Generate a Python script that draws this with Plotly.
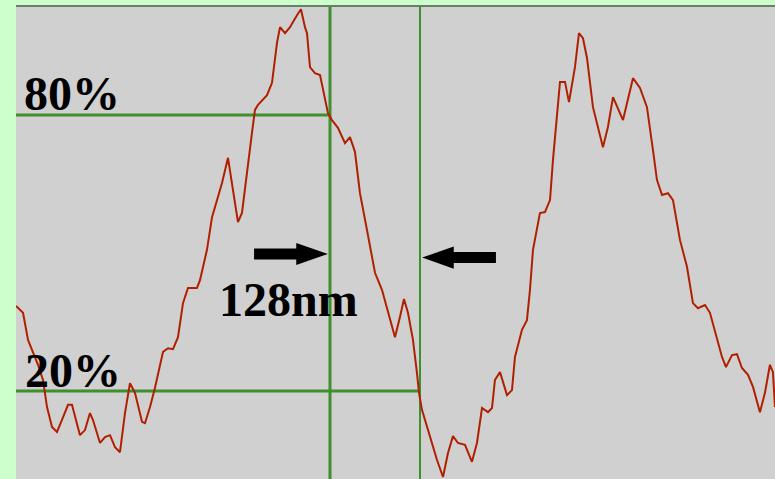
import plotly.graph_objects as go

# Intensity profile across two lines (position in nm, intensity in % of max)
position_nm = [
    0.0, 10.0, 17.1, 24.2, 31.3, 38.4, 44.1, 51.2, 58.3, 65.4, 74.0, 79.6, 91.0, 98.1,
    105.2, 109.5, 119.5, 126.6, 133.7, 140.8, 147.9, 155.0, 162.1, 169.2, 179.2, 183.5,
    190.6, 197.7, 204.8, 209.1, 216.2, 223.3, 230.4, 237.5, 244.6, 257.4, 261.7, 271.6,
    278.8, 285.9, 293.0, 301.5, 308.6, 315.7, 321.4, 328.5, 335.6, 339.9, 344.2, 357.0,
    364.1, 371.2, 375.5, 382.6, 389.7, 399.6, 405.3, 411.0, 413.9, 418.1, 425.2, 432.4,
    436.6, 443.7, 449.4, 457.9, 467.9, 475.0, 482.1, 489.2, 499.2, 510.6, 520.5, 529.1,
    539.0, 546.1, 551.8, 557.5, 564.6, 570.3, 573.2, 577.4, 588.8, 598.8, 607.3, 614.4,
    621.5, 628.6, 638.6, 648.5, 655.6, 662.8, 671.3, 677.0, 681.2, 688.4, 698.3, 705.4,
    709.7, 719.6, 726.7, 731.0, 735.3, 741.0, 745.2, 752.3, 759.5, 763.7, 769.4, 773.7,
    780.8, 786.5, 795.0, 800.7, 806.4, 812.1, 820.6, 834.8, 841.9, 849.1, 863.3, 877.5,
    887.5, 897.4, 905.9, 911.6, 918.8, 927.3, 934.4, 944.4, 954.3, 962.8, 969.9, 979.9,
    987.0, 997.0, 1004.1, 1009.8, 1018.3, 1025.4, 1032.5, 1041.1, 1048.2, 1058.1, 1065.2,
    1072.3, 1076.6, 1079.5,
]
intensity_pct = [
    38.5, 37.0, 31.1, 28.5, 25.7, 22.4, 16.5, 12.2, 11.1, 13.7, 17.0, 17.0, 10.4, 11.5,
    15.2, 13.7, 8.7, 10.0, 10.4, 7.8, 6.7, 15.2, 21.7, 19.6, 13.3, 13.0,
    16.5, 20.7, 25.2, 28.5, 29.3, 29.1, 31.7, 39.1, 42.4, 42.4, 44.1, 50.7,
    57.8, 61.5, 65.2, 70.7, 63.7, 56.7, 58.7, 68.0, 76.1, 81.1, 82.2, 84.3,
    87.0, 95.7, 99.1, 97.8, 99.1, 101.7, 103.0, 99.1, 97.8, 90.4, 89.1, 88.7,
    85.4, 80.4, 78.9, 77.2, 73.9, 75.2, 72.0, 63.0, 55.0, 45.7, 42.0, 37.0,
    31.7, 36.1, 40.0, 37.0, 31.1, 23.9, 19.6, 15.9, 10.0, 5.0, 1.3, 6.5,
    10.2, 8.7, 8.3, 4.6, 8.7, 16.3, 15.4, 16.3, 22.4, 24.1, 19.1, 20.2,
    27.4, 33.3, 35.4, 42.0, 50.7, 55.7, 58.7, 58.9, 61.5, 70.2, 79.6, 87.2,
    87.2, 82.8, 90.4, 97.8, 96.7, 92.4, 81.7, 73.0, 77.4, 83.9, 78.9, 88.0,
    85.9, 81.7, 72.4, 65.9, 62.6, 63.0, 61.5, 52.8, 47.0, 39.1, 38.0, 38.7,
    37.0, 31.7, 27.4, 25.2, 27.8, 28.0, 25.0, 23.5, 20.9, 15.4, 19.6,
    25.7, 24.1, 16.5,
]

# Measurement levels and edge positions
level_high = 80
level_low = 20
edge_left_nm = 446.6
width_nm = 128
edge_right_nm = edge_left_nm + width_nm

X_RANGE = [0, 1079.5]
Y_RANGE = [0.87, 103.48]

GREEN = "#3f8f2f"
FONT = dict(family="Liberation Serif, Times New Roman, serif", size=48, color="black")

fig = go.Figure()
fig.add_trace(go.Scatter(
    x=position_nm, y=intensity_pct, mode="lines",
    line=dict(color="#b02000", width=2), hoverinfo="skip",
))

shapes = [
    # level lines
    dict(type="line", xref="x", yref="y", x0=X_RANGE[0], x1=edge_left_nm,
         y0=level_high, y1=level_high, line=dict(color=GREEN, width=3), layer="below"),
    dict(type="line", xref="x", yref="y", x0=X_RANGE[0], x1=edge_right_nm,
         y0=level_low, y1=level_low, line=dict(color=GREEN, width=3), layer="below"),
    # edge markers
    dict(type="line", xref="x", yref="paper", x0=edge_left_nm, x1=edge_left_nm,
         y0=0, y1=1, line=dict(color=GREEN, width=3), layer="below"),
    dict(type="line", xref="x", yref="paper", x0=edge_right_nm, x1=edge_right_nm,
         y0=0, y1=1, line=dict(color=GREEN, width=2), layer="below"),
    # top border
    dict(type="line", xref="paper", yref="paper", x0=0, x1=1, y0=1.0021, y1=1.0021,
         line=dict(color="black", width=1.2)),
]


def arrow_path(tip_x, y, direction, total_len=105.0, head_len=45.0,
               head_half=2.4, shaft_half=1.2):
    """Block arrow pointing in `direction` (+1 right, -1 left) ending at tip_x."""
    base = tip_x - direction * head_len
    tail = tip_x - direction * total_len
    pts = [
        (tail, y - shaft_half), (base, y - shaft_half), (base, y - head_half),
        (tip_x, y), (base, y + head_half), (base, y + shaft_half), (tail, y + shaft_half),
    ]
    return "M " + " L ".join(f"{px},{py}" for px, py in pts) + " Z"


shapes.append(dict(type="path", xref="x", yref="y",
                   path=arrow_path(edge_left_nm - 3, 49.8, +1),
                   fillcolor="black", line=dict(color="black", width=0)))
shapes.append(dict(type="path", xref="x", yref="y",
                   path=arrow_path(edge_right_nm + 3, 49.0, -1),
                   fillcolor="black", line=dict(color="black", width=0)))

annotations = [
    dict(x=8.0, y=84.6, text="<b>80%</b>"),
    dict(x=10.3, y=24.5, text="<b>20%</b>"),
    dict(x=286.5, y=40.0, text=f"<b>{width_nm}nm</b>"),
]
for a in annotations:
    a.update(xref="x", yref="y", showarrow=False, xanchor="left", yanchor="middle",
             font=FONT)

fig.update_layout(
    width=775, height=479,
    margin=dict(l=16, r=0, t=7, b=0),
    paper_bgcolor="#ccffcc",
    plot_bgcolor="#d0d0d0",
    showlegend=False,
    shapes=shapes,
    annotations=annotations,
    xaxis=dict(range=X_RANGE, visible=False, fixedrange=True),
    yaxis=dict(range=Y_RANGE, visible=False, fixedrange=True),
)

fig.write_html("out.html", config={"displayModeBar": False})
